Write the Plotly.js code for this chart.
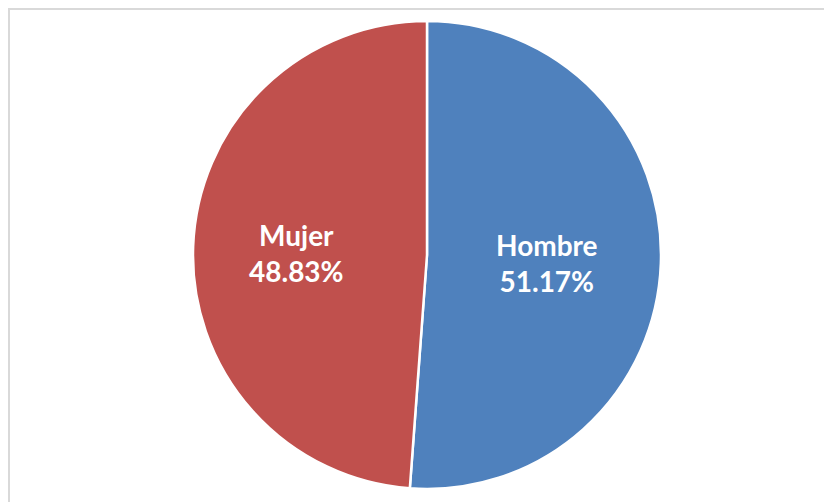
<!DOCTYPE html>
<html>
<head>
<meta charset="utf-8">
<script src="https://cdn.plot.ly/plotly-3.0.1.min.js"></script>
<style>html,body{margin:0;padding:0;background:#fff;}#chart{width:824px;height:502px;}</style>
</head>
<body>
<div id="chart"></div>
<script>
const labels = ["Hombre", "Mujer"];
const values = [51.17, 48.83];
const colors = ["#4F81BD", "#C0504D"];

const W = 824, H = 502;
const cx = 427, cy = 255, r = 234;
const labelRadius = 0.535 * r;

const total = values.reduce((a, b) => a + b, 0);
let acc = 0;
const annotations = values.map((v, i) => {
  const mid = (acc + v / 2) / total * 2 * Math.PI; // clockwise from 12 o'clock
  acc += v;
  const px = cx - 5 + labelRadius * Math.sin(mid);
  const py = cy + 3 - labelRadius * Math.cos(mid);
  return {
    xref: "paper", yref: "paper",
    x: px / W, y: (H - py) / H,
    xanchor: "center", yanchor: "middle",
    showarrow: false,
    text: labels[i] + "<br>" + (v / total * 100).toFixed(2) + "%",
    font: {family: "Lato, 'Open Sans', sans-serif", size: 28, color: "#ffffff", weight: "bold"},
    align: "center"
  };
});

const trace = {
  type: "pie",
  labels: labels,
  values: values,
  sort: false,
  direction: "clockwise",
  rotation: 0,
  marker: {colors: colors, line: {color: "#ffffff", width: 2.5}},
  textinfo: "none",
  hoverinfo: "label+percent",
  showlegend: false,
  domain: {x: [(cx - r) / W, (cx + r) / W], y: [(H - cy - r) / H, (H - cy + r) / H]}
};

const layout = {
  width: W, height: H,
  margin: {l: 0, r: 0, t: 0, b: 0},
  paper_bgcolor: "#ffffff",
  showlegend: false,
  annotations: annotations,
  shapes: [{
    type: "rect", xref: "paper", yref: "paper",
    x0: 9 / W, x1: 1.05, y0: -0.05, y1: 1 - 9 / H,
    line: {color: "#d9d9d9", width: 2}, fillcolor: "rgba(0,0,0,0)"
  }]
};

Plotly.newPlot("chart", [trace], layout, {staticPlot: true, displayModeBar: false});
</script>
</body>
</html>
